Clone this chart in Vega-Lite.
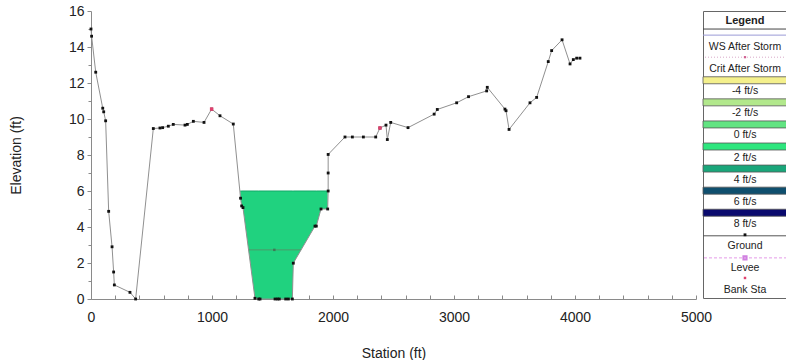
{
  "$schema": "https://vega.github.io/schema/vega-lite/v6.json",
  "padding": {"left": 9, "top": 3, "right": 0, "bottom": 0},
  "background": "white",
  "bounds": "flush",
  "spacing": 7,
  "config": {"view": {"stroke": null}, "font": "Liberation Sans"},
  "datasets": {
    "ground": [
      {"station": 0, "elev": 15.0}, {"station": 5, "elev": 14.6}, {"station": 39, "elev": 12.6},
      {"station": 97, "elev": 10.6}, {"station": 105, "elev": 10.4}, {"station": 121, "elev": 9.9},
      {"station": 146, "elev": 4.87}, {"station": 174, "elev": 2.9}, {"station": 187, "elev": 1.5},
      {"station": 193, "elev": 0.78}, {"station": 322, "elev": 0.37}, {"station": 369, "elev": 0.0},
      {"station": 515, "elev": 9.47}, {"station": 570, "elev": 9.5}, {"station": 592, "elev": 9.52},
      {"station": 639, "elev": 9.6}, {"station": 680, "elev": 9.7}, {"station": 777, "elev": 9.66},
      {"station": 796, "elev": 9.7}, {"station": 846, "elev": 9.87}, {"station": 934, "elev": 9.81},
      {"station": 997, "elev": 10.55}, {"station": 1066, "elev": 10.18}, {"station": 1176, "elev": 9.72},
      {"station": 1236, "elev": 5.6}, {"station": 1245, "elev": 5.17}, {"station": 1256, "elev": 5.08},
      {"station": 1355, "elev": 0.04}, {"station": 1386, "elev": 0}, {"station": 1397, "elev": 0},
      {"station": 1521, "elev": 0}, {"station": 1540, "elev": 0}, {"station": 1556, "elev": 0},
      {"station": 1609, "elev": 0}, {"station": 1631, "elev": 0}, {"station": 1664, "elev": 0},
      {"station": 1672, "elev": 1.99}, {"station": 1851, "elev": 4.05}, {"station": 1862, "elev": 4.05},
      {"station": 1901, "elev": 5.0}, {"station": 1956, "elev": 5.0}, {"station": 1960, "elev": 6.0},
      {"station": 1960, "elev": 7.0}, {"station": 1960, "elev": 8.03}, {"station": 2099, "elev": 9.0},
      {"station": 2160, "elev": 9.0}, {"station": 2251, "elev": 9.0}, {"station": 2353, "elev": 9.0},
      {"station": 2388, "elev": 9.5}, {"station": 2438, "elev": 9.66}, {"station": 2449, "elev": 8.86},
      {"station": 2477, "elev": 9.81}, {"station": 2620, "elev": 9.52}, {"station": 2836, "elev": 10.27},
      {"station": 2862, "elev": 10.53}, {"station": 3022, "elev": 10.9}, {"station": 3120, "elev": 11.24},
      {"station": 3270, "elev": 11.56}, {"station": 3275, "elev": 11.76}, {"station": 3421, "elev": 10.55},
      {"station": 3430, "elev": 10.46}, {"station": 3455, "elev": 9.42}, {"station": 3628, "elev": 10.9},
      {"station": 3683, "elev": 11.2}, {"station": 3779, "elev": 13.19}, {"station": 3807, "elev": 13.8},
      {"station": 3893, "elev": 14.4}, {"station": 3959, "elev": 13.06}, {"station": 3986, "elev": 13.3},
      {"station": 4014, "elev": 13.38}, {"station": 4041, "elev": 13.38}
    ],
    "water": [
      {"station": 1233, "ground": 6.0, "ws": 6}, {"station": 1236, "ground": 5.6, "ws": 6},
      {"station": 1245, "ground": 5.17, "ws": 6}, {"station": 1256, "ground": 5.08, "ws": 6},
      {"station": 1355, "ground": 0.04, "ws": 6}, {"station": 1386, "ground": 0, "ws": 6},
      {"station": 1664, "ground": 0, "ws": 6}, {"station": 1672, "ground": 1.99, "ws": 6},
      {"station": 1851, "ground": 4.05, "ws": 6}, {"station": 1862, "ground": 4.05, "ws": 6},
      {"station": 1901, "ground": 5.0, "ws": 6}, {"station": 1956, "ground": 5.0, "ws": 6}
    ],
    "crit": [{"station": 1302, "crit": 2.73}, {"station": 1736, "crit": 2.73}],
    "critmark": [{"station": 1515, "crit": 2.73}],
    "bank": [{"station": 997, "elev": 10.55}, {"station": 2388, "elev": 9.5}],
    "legend": [
      {"item": "Legend", "kind": "header"},
      {"item": "WS After Storm", "kind": "ws"},
      {"item": "Crit After Storm", "kind": "crit"},
      {"item": "-4 ft/s", "kind": "swatch"},
      {"item": "-2 ft/s", "kind": "swatch"},
      {"item": "0 ft/s", "kind": "swatch"},
      {"item": "2 ft/s", "kind": "swatch"},
      {"item": "4 ft/s", "kind": "swatch"},
      {"item": "6 ft/s", "kind": "swatch"},
      {"item": "8 ft/s", "kind": "swatch"},
      {"item": "Ground", "kind": "ground"},
      {"item": "Levee", "kind": "levee"},
      {"item": "Bank Sta", "kind": "bank"}
    ]
  },
  "hconcat": [
    {
      "width": 605,
      "height": 288,
      "resolve": {"axis": {"x": "independent", "y": "independent"}},
      "layer": [
        {
          "data": {"name": "water"},
          "mark": {"type": "area", "color": "#20d27f", "opacity": 1},
          "encoding": {
            "x": {"field": "station", "type": "quantitative", "scale": {"domain": [0, 5000], "nice": false, "zero": false}, "axis": null},
            "y": {"field": "ground", "type": "quantitative", "scale": {"domain": [0, 16], "nice": false}, "axis": null},
            "y2": {"field": "ws"}
          }
        },
        {
          "data": {"name": "water"},
          "mark": {"type": "line", "color": "#12a868", "strokeWidth": 1},
          "encoding": {
            "x": {"field": "station", "type": "quantitative", "axis": null},
            "y": {"field": "ws", "type": "quantitative", "axis": null}
          }
        },
        {
          "data": {"name": "crit"},
          "mark": {"type": "line", "color": "#4d9a6a", "strokeWidth": 1},
          "encoding": {
            "x": {"field": "station", "type": "quantitative", "axis": null},
            "y": {"field": "crit", "type": "quantitative", "axis": null}
          }
        },
        {
          "data": {"name": "critmark"},
          "mark": {"type": "point", "shape": "square", "filled": true, "size": 6, "color": "#3d7a55", "opacity": 1},
          "encoding": {
            "x": {"field": "station", "type": "quantitative", "axis": null},
            "y": {"field": "crit", "type": "quantitative", "axis": null}
          }
        },
        {
          "data": {"name": "ground"},
          "mark": {"type": "line", "color": "#909090", "strokeWidth": 1},
          "encoding": {
            "x": {
              "field": "station", "type": "quantitative",
              "axis": {
                "orient": "bottom", "title": "Station (ft)", "format": "d",
                "values": [0, 1000, 2000, 3000, 4000, 5000],
                "labelOverlap": false, "labelFlush": false, "grid": false,
                "tickSize": -4, "domainColor": "#8a8a8a", "tickColor": "#8a8a8a",
                "labelFontSize": 14, "titleFontSize": 14, "titleFontWeight": "normal",
                "labelColor": "#222222", "titleColor": "#222222", "titlePadding": 22, "labelPadding": 15
              }
            },
            "y": {
              "field": "elev", "type": "quantitative",
              "axis": {
                "orient": "left", "title": "Elevation (ft)",
                "values": [0, 2, 4, 6, 8, 10, 12, 14, 16],
                "labelOverlap": false, "labelFlush": false, "grid": false,
                "tickSize": 4, "domainColor": "#8a8a8a", "tickColor": "#8a8a8a",
                "labelFontSize": 14, "titleFontSize": 14, "titleFontWeight": "normal",
                "labelColor": "#222222", "titleColor": "#222222", "titlePadding": 45, "labelPadding": 3
              }
            }
          }
        },
        {
          "data": {"name": "ground"},
          "mark": {"type": "point", "shape": "square", "filled": true, "size": 8, "color": "#111111", "opacity": 1},
          "encoding": {
            "x": {
              "field": "station", "type": "quantitative",
              "axis": {
                "orient": "bottom", "title": null, "labels": false, "domain": false, "grid": false,
                "values": [200, 400, 600, 800, 1200, 1400, 1600, 1800, 2200, 2400, 2600, 2800, 3200, 3400, 3600, 3800, 4200, 4400, 4600, 4800],
                "tickSize": -4, "tickColor": "#8a8a8a"
              }
            },
            "y": {
              "field": "elev", "type": "quantitative",
              "axis": {
                "orient": "left", "title": null, "labels": false, "domain": false, "grid": false,
                "values": [1, 3, 5, 7, 9, 11, 13, 15],
                "tickSize": 3, "tickColor": "#8a8a8a"
              }
            }
          }
        },
        {
          "data": {"name": "bank"},
          "mark": {"type": "point", "shape": "square", "filled": true, "size": 12, "color": "#e0406e", "opacity": 1},
          "encoding": {
            "x": {"field": "station", "type": "quantitative", "axis": null},
            "y": {"field": "elev", "type": "quantitative", "axis": null}
          }
        }
      ]
    },
    {
      "width": 84,
      "height": 287,
      "title": {"text": " ", "fontSize": 1, "offset": 6},
      "data": {"name": "legend"},
      "view": {"stroke": "#666666", "strokeWidth": 1, "fill": "white"},
      "encoding": {
        "y": {
          "field": "item", "type": "nominal", "axis": null,
          "scale": {
            "domain": ["Legend", "WS After Storm", "Crit After Storm", "-4 ft/s", "-2 ft/s", "0 ft/s", "2 ft/s", "4 ft/s", "6 ft/s", "8 ft/s", "Ground", "Levee", "Bank Sta"],
            "paddingInner": 0, "paddingOuter": 0
          }
        }
      },
      "layer": [
        {
          "transform": [{"filter": "datum.kind === 'swatch'"}],
          "mark": {"type": "bar", "height": 7, "yOffset": -8, "stroke": "#555555", "strokeWidth": 0.8},
          "encoding": {
            "color": {
              "field": "item", "type": "nominal", "legend": null,
              "scale": {
                "domain": ["-4 ft/s", "-2 ft/s", "0 ft/s", "2 ft/s", "4 ft/s", "6 ft/s", "8 ft/s"],
                "range": ["#f4f08c", "#b2e88c", "#62e482", "#2ee67e", "#1aa67a", "#0f4f6e", "#0a0a6e"]
              }
            }
          }
        },
        {
          "transform": [{"filter": "datum.kind === 'header'"}],
          "mark": {"type": "rule", "color": "#444444", "strokeWidth": 1, "yOffset": 7},
          "encoding": {}
        },
        {
          "transform": [{"filter": "datum.kind === 'ws'"}],
          "mark": {"type": "rule", "color": "#9a9ad6", "strokeWidth": 1, "yOffset": -9},
          "encoding": {}
        },
        {
          "transform": [{"filter": "datum.kind === 'crit'"}],
          "mark": {"type": "rule", "color": "#d8a8c8", "strokeWidth": 1, "strokeDash": [1, 2], "yOffset": -9},
          "encoding": {}
        },
        {
          "transform": [{"filter": "datum.kind === 'crit'"}],
          "mark": {"type": "point", "shape": "square", "filled": true, "size": 5, "color": "#d06090", "yOffset": -9, "opacity": 1},
          "encoding": {}
        },
        {
          "transform": [{"filter": "datum.kind === 'ground'"}],
          "mark": {"type": "rule", "color": "#555555", "strokeWidth": 1, "yOffset": -7},
          "encoding": {}
        },
        {
          "transform": [{"filter": "datum.kind === 'ground'"}],
          "mark": {"type": "point", "shape": "square", "filled": true, "size": 8, "color": "#111111", "yOffset": -8, "opacity": 1},
          "encoding": {}
        },
        {
          "transform": [{"filter": "datum.kind === 'levee'"}],
          "mark": {"type": "rule", "color": "#e49ae8", "strokeWidth": 1, "strokeDash": [3, 2], "yOffset": -7},
          "encoding": {}
        },
        {
          "transform": [{"filter": "datum.kind === 'levee'"}],
          "mark": {"type": "point", "shape": "square", "filled": false, "size": 10, "color": "#d080e0", "yOffset": -7, "opacity": 1},
          "encoding": {}
        },
        {
          "transform": [{"filter": "datum.kind === 'bank'"}],
          "mark": {"type": "point", "shape": "square", "filled": true, "size": 6, "color": "#e0406e", "yOffset": -9, "opacity": 1},
          "encoding": {}
        },
        {
          "transform": [{"filter": "datum.kind === 'header'"}],
          "mark": {"type": "text", "fontSize": 11, "fontWeight": "bold", "color": "#222222", "baseline": "middle", "dy": -1},
          "encoding": {"text": {"field": "item"}}
        },
        {
          "transform": [{"filter": "datum.kind !== 'header'"}],
          "mark": {"type": "text", "fontSize": 10.5, "color": "#222222", "baseline": "middle", "dy": 3},
          "encoding": {"text": {"field": "item"}}
        }
      ]
    }
  ]
}
